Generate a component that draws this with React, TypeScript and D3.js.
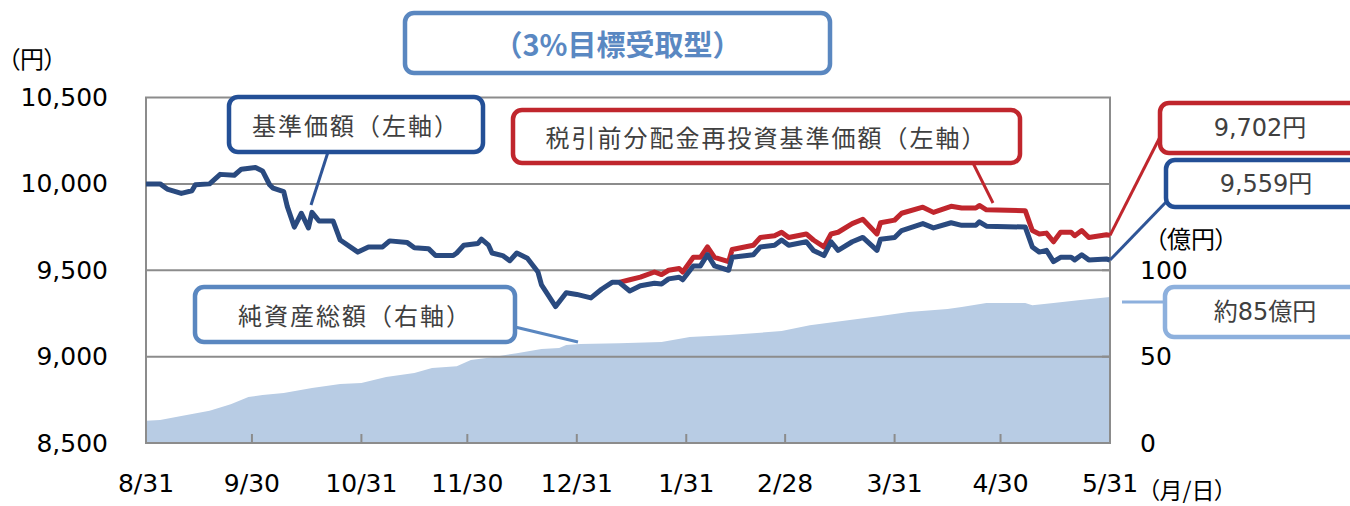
import React from 'react';
import * as d3 from 'd3';

// 基準価額・税引前分配金再投資基準価額（円）
const navDates = [
  '2022-08-31', '2022-09-04', '2022-09-06', '2022-09-10', '2022-09-13', '2022-09-14',
  '2022-09-18', '2022-09-21', '2022-09-25', '2022-09-27', '2022-10-01', '2022-10-03',
  '2022-10-05', '2022-10-06', '2022-10-09', '2022-10-10', '2022-10-12', '2022-10-14',
  '2022-10-16', '2022-10-17', '2022-10-19', '2022-10-23', '2022-10-25', '2022-10-30',
  '2022-11-02', '2022-11-06', '2022-11-08', '2022-11-13', '2022-11-15', '2022-11-19',
  '2022-11-21', '2022-11-26', '2022-11-27', '2022-11-29', '2022-12-03', '2022-12-04',
  '2022-12-06', '2022-12-07', '2022-12-10', '2022-12-12', '2022-12-14', '2022-12-17',
  '2022-12-20', '2022-12-21', '2022-12-25', '2022-12-28', '2022-12-31', '2023-01-04',
  '2023-01-07', '2023-01-10', '2023-01-12', '2023-01-15', '2023-01-18', '2023-01-22',
  '2023-01-24', '2023-01-26', '2023-01-29', '2023-01-30', '2023-02-02', '2023-02-04',
  '2023-02-06', '2023-02-08', '2023-02-12', '2023-02-13', '2023-02-19', '2023-02-21',
  '2023-02-25', '2023-02-27', '2023-03-01', '2023-03-06', '2023-03-08', '2023-03-11',
  '2023-03-13', '2023-03-15', '2023-03-19', '2023-03-22', '2023-03-26', '2023-03-27',
  '2023-03-31', '2023-04-02', '2023-04-08', '2023-04-11', '2023-04-16', '2023-04-19',
  '2023-04-23', '2023-04-24', '2023-04-26', '2023-05-07', '2023-05-09', '2023-05-11',
  '2023-05-13', '2023-05-15', '2023-05-17', '2023-05-20', '2023-05-21', '2023-05-23',
  '2023-05-25', '2023-05-30', '2023-05-31',
];

const navValues = [
  10000, 10000, 9970, 9945, 9960, 9995,
  10000, 10055, 10050, 10085, 10095, 10075,
  9995, 9975, 9955, 9870, 9750, 9830,
  9745, 9835, 9785, 9785, 9675, 9605,
  9635, 9635, 9670, 9660, 9630, 9625,
  9585, 9585, 9600, 9645, 9655, 9680,
  9645, 9600, 9585, 9555, 9600, 9570,
  9490, 9415, 9290, 9370, 9360, 9340,
  9390, 9430, 9430, 9380, 9410, 9425,
  9420, 9450, 9460, 9445, 9525, 9525,
  9590, 9525, 9500, 9575, 9590, 9635,
  9645, 9675, 9645, 9665, 9615, 9585,
  9665, 9615, 9665, 9690, 9615, 9680,
  9690, 9730, 9770, 9745, 9775, 9760,
  9760, 9780, 9755, 9750, 9635, 9605,
  9615, 9550, 9575, 9575, 9560, 9590,
  9560, 9565, 9559,
];

// 分配金再投資（1/12以前は基準価額と同じ）
const reinvestValues = [
  null, null, null, null, null, null,
  null, null, null, null, null, null,
  null, null, null, null, null, null,
  null, null, null, null, null, null,
  null, null, null, null, null, null,
  null, null, null, null, null, null,
  null, null, null, null, null, null,
  null, null, null, null, null, null,
  null, null, 9430, 9445, 9460, 9490,
  9475, 9500, 9510, 9490, 9575, 9575,
  9635, 9575, 9550, 9620, 9645, 9690,
  9700, 9720, 9690, 9710, 9675, 9635,
  9710, 9720, 9770, 9795, 9710, 9775,
  9790, 9830, 9865, 9835, 9870, 9860,
  9860, 9875, 9850, 9845, 9730, 9710,
  9715, 9665, 9720, 9720, 9700, 9730,
  9690, 9705, 9702,
];

// 純資産総額（億円）
const assetDates = [
  '2022-08-31', '2022-09-04', '2022-09-10', '2022-09-18', '2022-09-24', '2022-09-29',
  '2022-10-03', '2022-10-09', '2022-10-17', '2022-10-25', '2022-10-31', '2022-11-07',
  '2022-11-15', '2022-11-20', '2022-11-27', '2022-12-01', '2022-12-07', '2022-12-14',
  '2022-12-21', '2022-12-26', '2022-12-28', '2023-01-01', '2023-01-12', '2023-01-24',
  '2023-02-01', '2023-02-12', '2023-02-27', '2023-03-07', '2023-03-14', '2023-03-27',
  '2023-04-04', '2023-04-15', '2023-04-19', '2023-04-26', '2023-05-07', '2023-05-09',
  '2023-05-15', '2023-05-22', '2023-05-31',
];

const assetValues = [
  12.9, 13.3, 15.6, 18.7, 22.5, 26.6,
  27.8, 28.9, 31.8, 34.1, 34.7, 38.2,
  40.5, 43.4, 44.5, 48.0, 49.7, 52.0,
  54.4, 55.0, 56.7, 57.3, 57.8, 58.4,
  61.3, 62.5, 64.8, 68.2, 70.0, 73.5,
  75.8, 77.5, 78.7, 81.0, 81.0, 79.8,
  81.0, 82.7, 84.5,
];

const tickDates = [
  '2022-08-31', '2022-09-30', '2022-10-31', '2022-11-30', '2022-12-31',
  '2023-01-31', '2023-02-28', '2023-03-31', '2023-04-30', '2023-05-31',
];
const tickLabels = ['8/31', '9/30', '10/31', '11/30', '12/31', '1/31', '2/28', '3/31', '4/30', '5/31'];
const leftTicks = [8500, 9000, 9500, 10000, 10500];
const rightTicks = [0, 50, 100];

const parse = d3.timeParse('%Y-%m-%d');

const W = 1350;
const H = 506;
const L = 146;
const R = 1110;
const T = 97.5;
const B = 443;

const NUM_FONT = '"DejaVu Sans", "Noto Sans CJK JP", sans-serif';
const JP_FONT = '"Noto Sans CJK JP", sans-serif';

const NAVY = '#2a4a7f';
const RED = '#c0262d';
const AREA = '#b8cce4';
const GRID = '#8c8c8c';

function Callout({ x, y, w, h, stroke, text, size = 24, spacing = 2, font = JP_FONT, color = '#404040', weight = 'normal' }) {
  return (
    <g>
      <rect x={x} y={y} width={w} height={h} rx={9} fill="#fff" stroke={stroke} strokeWidth={4.5} />
      <text
        x={x + w / 2}
        y={y + h / 2}
        textAnchor="middle"
        dominantBaseline="central"
        fontFamily={font}
        fontSize={size}
        letterSpacing={spacing}
        fontWeight={weight}
        fill={color}
      >
        {text}
      </text>
    </g>
  );
}

export default function App() {
  const x = d3.scaleTime().domain([parse('2022-08-31'), parse('2023-05-31')]).range([L, R]);
  const yL = d3.scaleLinear().domain([8500, 10500]).range([B, T]);
  const yR = d3.scaleLinear().domain([0, 200]).range([B, T]);

  const nav = navDates.map((d, i) => ({ date: parse(d), value: navValues[i], re: reinvestValues[i] }));
  const assets = assetDates.map((d, i) => ({ date: parse(d), value: assetValues[i] }));

  const area = d3.area().x(d => x(d.date)).y0(B).y1(d => yR(d.value))(assets);
  const navLine = d3.line().x(d => x(d.date)).y(d => yL(d.value))(nav);
  const reLine = d3.line().defined(d => d.re != null).x(d => x(d.date)).y(d => yL(d.re))(nav);

  const last = nav[nav.length - 1];
  const lastAsset = assets[assets.length - 1];

  return (
    <svg width={W} height={H} style={{ position: 'absolute', left: 0, top: 0, background: '#fff' }}>
      <path d={area} fill={AREA} />

      {/* grid */}
      {leftTicks.slice(1, -1).map(t => (
        <line key={t} x1={L} x2={R} y1={yL(t)} y2={yL(t)} stroke={GRID} strokeWidth={2} />
      ))}
      <rect x={L} y={T} width={R - L} height={B - T} fill="none" stroke={GRID} strokeWidth={2} />
      {tickDates.slice(1, -1).map(t => (
        <line key={t} x1={x(parse(t))} x2={x(parse(t))} y1={B} y2={B - 9} stroke={GRID} strokeWidth={2} />
      ))}
      {rightTicks.slice(1).map(t => (
        <line key={t} x1={R - 8} x2={R} y1={yR(t)} y2={yR(t)} stroke={GRID} strokeWidth={2} />
      ))}

      <path d={reLine} fill="none" stroke={RED} strokeWidth={5} strokeLinejoin="round" />
      <path d={navLine} fill="none" stroke={NAVY} strokeWidth={5} strokeLinejoin="round" />

      {/* axes labels */}
      {leftTicks.map(t => (
        <text key={t} x={108} y={yL(t)} textAnchor="end" dominantBaseline="central" fontFamily={NUM_FONT} fontSize={25} fill="#000">
          {d3.format(',')(t)}
        </text>
      ))}
      {rightTicks.map(t => (
        <text key={t} x={1140} y={yR(t)} textAnchor="start" dominantBaseline="central" fontFamily={NUM_FONT} fontSize={25} fill="#000">
          {t}
        </text>
      ))}
      {tickDates.map((t, i) => (
        <text key={t} x={x(parse(t))} y={483} textAnchor="middle" dominantBaseline="central" fontFamily={NUM_FONT} fontSize={25} fill="#000">
          {tickLabels[i]}
        </text>
      ))}
      <text x={8} y={57} dominantBaseline="central" fontFamily={JP_FONT} fontSize={24} fill="#000" style={{ fontFeatureSettings: '"palt"' }}>（円）</text>
      <text x={1155} y={237} dominantBaseline="central" fontFamily={JP_FONT} fontSize={24} fill="#000" style={{ fontFeatureSettings: '"palt"' }}>（億円）</text>
      <text x={1148} y={489} dominantBaseline="central" fontFamily={JP_FONT} fontSize={23} fill="#000" style={{ fontFeatureSettings: '"palt"' }}>（月/日）</text>

      {/* leader lines */}
      <line x1={328} y1={152} x2={311} y2={205} stroke="#2f5597" strokeWidth={3} />
      <line x1={973} y1={163} x2={993} y2={203} stroke={RED} strokeWidth={3} />
      <line x1={515} y1={327} x2={578} y2={342} stroke="#5a87c0" strokeWidth={3} />
      <line x1={x(last.date)} y1={yL(last.re)} x2={1162} y2={133} stroke={RED} strokeWidth={3} />
      <line x1={x(last.date)} y1={yL(last.value)} x2={1168} y2={200} stroke="#2f5597" strokeWidth={3} />
      <line x1={x(lastAsset.date) + 12} y1={302} x2={1166} y2={302} stroke="#8db0dd" strokeWidth={3} />

      {/* callouts */}
      <Callout x={405} y={13} w={425} h={60} stroke="#5a87c0" text="（3%目標受取型）" size={29} spacing={0} color="#5a88c2" weight="bold" />
      <Callout x={229} y={97} w={254} h={55} stroke="#234f96" text="基準価額（左軸）" />
      <Callout x={513} y={110} w={507} h={53} stroke={RED} text="税引前分配金再投資基準価額（左軸）" />
      <Callout x={195} y={287} w={320} h={55} stroke="#5a87c0" text="純資産総額（右軸）" />
      <Callout x={1160} y={103} w={200} h={50} stroke={RED} text={`${d3.format(',')(last.re)}円`} font={NUM_FONT} spacing={0} />
      <Callout x={1166} y={160} w={200} h={47} stroke="#234f96" text={`${d3.format(',')(last.value)}円`} font={NUM_FONT} spacing={0} />
      <Callout x={1165} y={287} w={200} h={50} stroke="#8db0dd" text="約85億円" font={NUM_FONT} spacing={0} />
    </svg>
  );
}
